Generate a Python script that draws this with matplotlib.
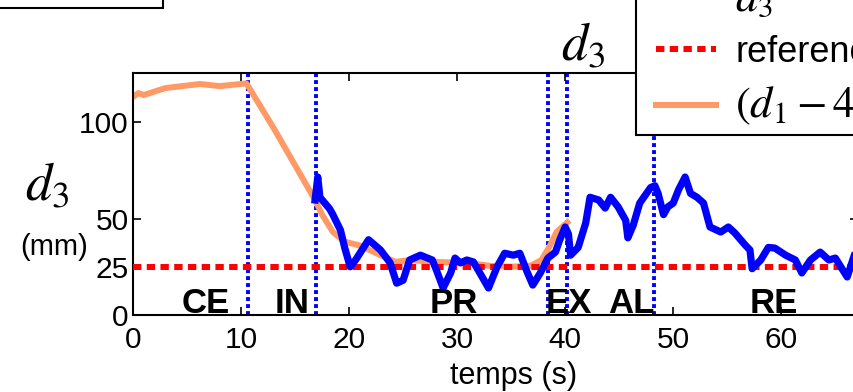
import matplotlib
matplotlib.use("Agg")
import matplotlib.pyplot as plt
from matplotlib.lines import Line2D
from matplotlib.patches import Rectangle

plt.rcParams['font.family'] = ['Liberation Sans', 'DejaVu Sans']
plt.rcParams['mathtext.fontset'] = 'stix'

# --- valeurs ---
t_d3 = [16.85, 17.1, 17.3, 18.2, 18.5, 19.2, 19.6, 20.1, 20.6, 21.8, 22.9, 23.8,
        24.4, 25.0, 25.6, 26.6, 27.7, 28.1, 28.7, 29.4, 29.8, 30.3, 30.9, 31.5,
        32.1, 32.9, 33.7, 34.4, 35.2, 35.8, 36.5, 37.0, 37.7, 38.4, 39.1, 39.5,
        40.0, 40.3, 40.5, 41.2, 41.9, 42.3, 43.1, 43.7, 44.2, 44.9, 45.6, 45.8,
        46.3, 46.9, 47.9, 48.3, 48.6, 49.1, 49.5, 50.0, 50.5, 51.1, 51.6, 52.2,
        52.8, 53.4, 54.4, 55.1, 55.7, 56.7, 57.1, 57.3, 58.1, 58.8, 59.4, 60.4,
        61.3, 61.9, 62.7, 63.6, 64.4, 65.0, 66.1, 66.7, 67.2]
d3 = [59.6, 71.5, 61.0, 55.0, 52.0, 44.0, 34.7, 25.0, 28.5, 39.0, 33.7, 27.0,
      16.5, 18.0, 28.5, 31.0, 28.5, 23.0, 14.0, 21.8, 29.5, 27.0, 28.5, 27.5,
      21.8, 14.0, 25.0, 32.0, 31.0, 32.0, 22.0, 15.5, 21.8, 29.5, 32.6, 39.0,
      45.6, 42.0, 31.0, 35.0, 47.7, 61.0, 59.6, 55.4, 61.0, 56.0, 49.0, 40.0,
      46.6, 58.0, 66.0, 67.0, 63.0, 52.0, 56.0, 58.0, 65.0, 71.5, 63.0, 61.0,
      58.0, 45.6, 43.0, 45.6, 42.5, 36.0, 33.7, 24.0, 28.5, 35.0, 34.7, 31.0,
      28.5, 21.8, 28.5, 32.6, 28.5, 29.5, 19.7, 30.0, 38.0]
t_d1 = [0, 0.5, 1, 3, 6.2, 8, 10.5, 13, 16.85, 17.5, 18.5, 19.6, 21, 22.9, 24.3,
        25.6, 28, 31, 33, 35, 36.8, 37.8, 38.5, 39.2, 40.2]
d1_scaled = [113, 115, 114, 117.6, 119.7, 118.6, 120, 97, 59.6, 52, 43, 38, 36,
             31, 27.5, 28.5, 27.5, 27, 25.5, 25, 25.5, 28.5, 35, 43, 48]
reference = 25
phase_bounds = [10.65, 16.94, 38.43, 40.19, 48.24]
phase_names = ['CE', 'IN', 'PR', 'EX', 'AL', 'RE']
phase_x = [6.75, 14.7, 29.7, 40.3, 46.1, 59.35]
xticks = [0, 10, 20, 30, 40, 50, 60]
yticks = [0, 25, 50, 100]

fig = plt.figure(figsize=(8.54, 3.92), dpi=100)
ax = fig.add_axes([133 / 854, 77 / 392, 725 / 854, 242 / 392])

for xb in phase_bounds:
    ax.axvline(xb, color='blue', lw=2.8, dashes=(1, 0.8), zorder=1)
ax.plot(t_d1, d1_scaled, color='#FF9966', lw=4.3, zorder=2)
ax.axhline(reference, color='red', lw=4.3, dashes=(1.4, 0.9), zorder=3)
ax.plot(t_d3, d3, color='blue', lw=5.2, zorder=4, solid_joinstyle='round')

for name, xp in zip(phase_names, phase_x):
    ax.text(xp, 0.8, name, ha='center', va='baseline', fontsize=25,
            fontweight='bold', zorder=5)

ax.set_xlim(0, 67.1)
ax.set_ylim(0, 125.4)
ax.set_xticks(xticks)
ax.set_yticks(yticks)
ax.tick_params(direction='in', length=5.5, width=1.2, top=True, right=True,
               labelsize=21.5)
ax.tick_params(axis='x', pad=8)
ax.tick_params(axis='y', pad=3)
for sp in ax.spines.values():
    sp.set_linewidth(1.5)

ax.set_xlabel('temps (s)', fontsize=22, labelpad=0)
ax.xaxis.set_label_coords((514 - 133) / 725, -0.19)
fig.text(47 / 854, 1 - 186 / 392, '$d_3$', fontsize=38, ha='center', va='center')
fig.text(54 / 854, 1 - 247 / 392, '(mm)', fontsize=21, ha='center', va='center')
fig.text(583 / 854, 1 - 46 / 392, '$d_3$', fontsize=38, ha='center', va='center')

# légende sans cadre + cadre dessiné à part (coupé par le bord de la figure)
handles = [Line2D([], [], color='blue', lw=5.2),
           Line2D([], [], color='red', lw=4.3, dashes=(1.4, 0.9)),
           Line2D([], [], color='#FF9966', lw=4.3)]
labels = ['$d_3$', 'reference', '$(d_1-40)/2$']
leg = ax.legend(handles, labels, loc='lower left',
                bbox_to_anchor=(656 / 854, 1 - 127 / 392),
                bbox_transform=fig.transFigure, borderaxespad=0,
                fontsize=26, handlelength=1.65, handletextpad=0.55,
                labelspacing=0.41, borderpad=0, frameon=False)
for txt in leg.get_texts():
    if txt.get_text().startswith('$'):
        txt.set_fontsize(32)

leg_box = Rectangle((636 / 854, 1 - 135 / 392), 0.5, 0.5,
                    transform=fig.transFigure, facecolor='white',
                    edgecolor='black', lw=1.5, zorder=4.5)
ax.add_artist(leg_box)
leg_box.set_clip_on(False)

fig.patches.append(Rectangle((-0.01, 1 - 8 / 392), 163 / 854 + 0.01, 0.1,
                             transform=fig.transFigure, fill=False,
                             lw=1.5, edgecolor='black'))

fig.savefig('out.png', dpi=100)
